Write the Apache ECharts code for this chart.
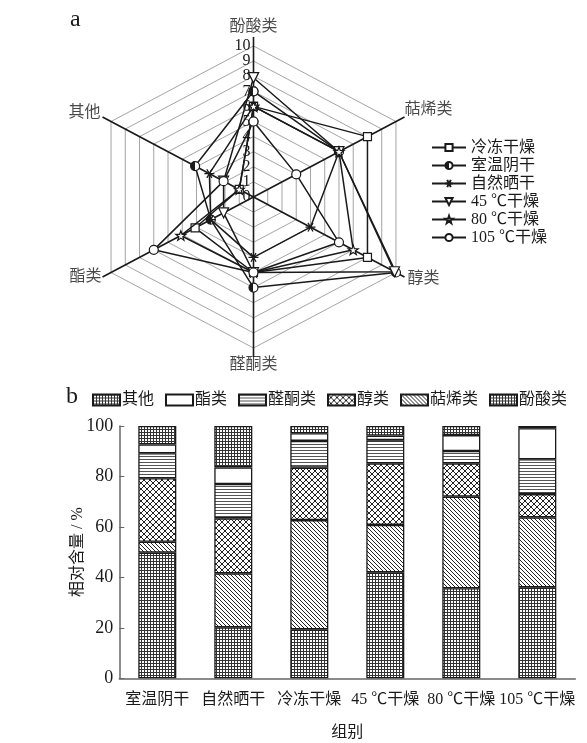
<!DOCTYPE html>
<html>
<head>
<meta charset="utf-8">
<script src="https://cdn.jsdelivr.net/npm/echarts@6/dist/echarts.min.js"></script>
<style>
  html, body { margin: 0; padding: 0; background: #fff; }
  #chart { width: 587px; height: 743px; }
</style>
</head>
<body>
<div id="chart"></div>
<script>
// ---------- Panel a: radar of compound classes ----------
const radarAxes = ['酚酸类', '萜烯类', '醇类', '醛酮类', '酯类', '其他'];
const radarTicks = [0, 1, 2, 3, 4, 5, 6, 7, 8, 9, 10];
const radarGroups = ['冷冻干燥', '室温阴干', '自然晒干', '45 ℃干燥', '80 ℃干燥', '105 ℃干燥'];
// values per group, in radarAxes order
const freezeDry = [6.0, 8.0, 8.0, 5.0, 4.1, 1.0];
const shadeDry  = [7.0, 6.0, 10.0, 6.0, 3.0, 4.1];
const sunDry    = [6.0, 6.0, 4.0, 4.0, 3.0, 3.1];
const oven45    = [7.9, 6.0, 9.9, 5.0, 2.1, 2.1];
const oven80    = [6.0, 6.0, 7.0, 5.0, 5.1, 1.0];
const oven105   = [5.0, 3.0, 6.0, 5.0, 7.0, 2.1];

// ---------- Panel b: stacked relative content ----------
const barGroups = ['室温阴干', '自然晒干', '冷冻干燥', '45 ℃干燥', '80 ℃干燥', '105 ℃干燥'];
const barTicks = [0, 20, 40, 60, 80, 100];
const phenolic = [49.8, 20.2, 19.4, 42.0, 35.7, 36.1];
const terpene  = [4.3, 21.4, 43.3, 18.8, 36.3, 27.7];
const alcohol  = [25.2, 21.8, 20.8, 24.4, 13.2, 9.2];
const aldKet   = [9.9, 13.6, 10.6, 9.2, 4.9, 13.8];
const ester    = [3.5, 6.6, 3.0, 1.8, 6.3, 12.3];
const other    = [7.3, 16.4, 2.9, 3.8, 3.6, 0.9];

const FONT = '"Liberation Serif", "Noto Sans CJK SC", serif';
const INK = '#1a1a1a';

// radar frame geometry (pixels)
const CX = 253.5, CY = 197, SX = 16.45, SY = 15.1, SPAN = 11;
const AXIS_END = 10.6;

// polar -> data coordinates; axis i sits i*60 degrees clockwise from the top
function polar(i, v) {
  const a = i * Math.PI / 3;
  return [v * Math.sin(a), v * Math.cos(a)];
}
function ring(vals) {
  const pts = vals.map((v, i) => polar(i, v));
  pts.push(pts[0]);
  return pts;
}

// hatch fills for the bars
function pattern(w, h, draw) {
  const c = document.createElement('canvas');
  c.width = w; c.height = h;
  const g = c.getContext('2d');
  g.fillStyle = '#fff';
  g.fillRect(0, 0, w, h);
  g.strokeStyle = '#222';
  g.lineWidth = 1;
  draw(g, w, h);
  return { image: c, repeat: 'repeat' };
}
const gridFill = pattern(3, 3, (g) => {
  g.fillStyle = '#333';
  g.fillRect(0, 0, 3, 1);
  g.fillRect(0, 0, 1, 3);
});
const diagFill = pattern(4, 4, (g) => {
  g.beginPath();
  g.moveTo(-1, -1); g.lineTo(5, 5);
  g.moveTo(-1, 3); g.lineTo(1, 5);
  g.moveTo(3, -1); g.lineTo(5, 1);
  g.stroke();
});
const crossFill = pattern(6, 6, (g) => {
  g.beginPath();
  g.moveTo(0, 0); g.lineTo(6, 6);
  g.moveTo(6, 0); g.lineTo(0, 6);
  g.stroke();
});
const hlineFill = pattern(2, 3, (g) => {
  g.fillStyle = '#555';
  g.fillRect(0, 0, 2, 1);
});

const series = [];

// concentric hexagon rings
radarTicks.slice(1).forEach((t) => {
  series.push({
    type: 'line', xAxisIndex: 0, yAxisIndex: 0, silent: true, clip: false,
    symbol: 'none', data: ring(radarAxes.map(() => t)),
    lineStyle: { color: '#9a9a9a', width: 0.9 }, z: 1
  });
});
// spokes
radarAxes.forEach((name, i) => {
  series.push({
    type: 'line', xAxisIndex: 0, yAxisIndex: 0, silent: true, clip: false,
    symbol: 'none', data: [[0, 0], polar(i, AXIS_END)],
    lineStyle: { color: INK, width: 1.6 }, z: 2
  });
});
// spoke names
const namePlacement = [
  { position: 'top', distance: 2, offset: [0, 0] },
  { position: 'right', distance: 0, offset: [0, -7] },
  { position: 'right', distance: 3, offset: [0, 2] },
  { position: 'bottom', distance: 0, offset: [0, 0] },
  { position: 'left', distance: 1, offset: [0, 0] },
  { position: 'left', distance: 2, offset: [0, -4] }
];
series.push({
  type: 'scatter', xAxisIndex: 0, yAxisIndex: 0, silent: true, clip: false,
  symbolSize: 0,
  data: radarAxes.map((name, i) => ({
    value: polar(i, AXIS_END),
    label: Object.assign({ show: true, formatter: name }, namePlacement[i])
  })),
  label: { fontFamily: FONT, fontSize: 16, color: INK }
});

// marker shapes: asterisk and five-point star
const asterisk = 'path://M-10,0L10,0M-5,-8.66L5,8.66M-5,8.66L5,-8.66';
const star = 'path://M0,-10L2.35,-3.24L9.51,-3.09L3.8,1.24L5.88,8.09L0,4L-5.88,8.09L-3.8,1.24L-9.51,-3.09L-2.35,-3.24Z';

const hollow = { color: '#fff', borderColor: INK, borderWidth: 1.2 };
// half-dark disc for the shade-dried group
const halfDark = {
  color: {
    type: 'linear', x: 0, y: 0, x2: 1, y2: 0,
    colorStops: [
      { offset: 0, color: INK }, { offset: 0.5, color: INK },
      { offset: 0.5, color: '#fff' }, { offset: 1, color: '#fff' }
    ]
  },
  borderColor: INK, borderWidth: 1.2
};
const groupSpec = [
  { vals: freezeDry, symbol: 'rect', size: 8, style: hollow },
  { vals: shadeDry, symbol: 'circle', size: 9, style: halfDark },
  { vals: sunDry, symbol: asterisk, size: 10, style: { color: 'none', borderColor: INK, borderWidth: 1.3 } },
  { vals: oven45, symbol: 'triangle', size: 10, rotate: 180, style: hollow },
  { vals: oven80, symbol: star, size: 10, style: hollow },
  { vals: oven105, symbol: 'circle', size: 9, style: hollow }
];
groupSpec.forEach((g, k) => {
  series.push({
    name: radarGroups[k],
    type: 'line', xAxisIndex: 0, yAxisIndex: 0, clip: false,
    data: ring(g.vals),
    symbol: g.symbol, symbolSize: g.size, symbolRotate: g.rotate || 0,
    symbolKeepAspect: true, showSymbol: true,
    lineStyle: { color: INK, width: 1.5 },
    itemStyle: g.style,
    z: 5 + k
  });
});

// stacked bars, bottom to top
const barSpec = [
  { name: '酚酸类', vals: phenolic, fill: gridFill },
  { name: '萜烯类', vals: terpene, fill: diagFill },
  { name: '醇类', vals: alcohol, fill: crossFill },
  { name: '醛酮类', vals: aldKet, fill: hlineFill },
  { name: '酯类', vals: ester, fill: '#fff' },
  { name: '其他', vals: other, fill: gridFill }
];
barSpec.forEach((b) => {
  series.push({
    name: b.name, type: 'bar', xAxisIndex: 1, yAxisIndex: 1,
    stack: 'share', data: b.vals, barWidth: 38,
    itemStyle: { color: b.fill, borderColor: INK, borderWidth: 1.3 }
  });
});

const option = {
  animation: false,
  backgroundColor: '#fff',
  textStyle: { fontFamily: FONT },
  grid: [
    { left: CX - SPAN * SX, width: 2 * SPAN * SX, top: CY - SPAN * SY, height: 2 * SPAN * SY, containLabel: false },
    { left: 119.3, right: 11.7, top: 426, bottom: 64.7, containLabel: false }
  ],
  xAxis: [
    { gridIndex: 0, type: 'value', min: -SPAN, max: SPAN, show: false },
    {
      gridIndex: 1, type: 'category', data: barGroups,
      axisLine: { lineStyle: { color: '#666', width: 1.5 } },
      axisTick: { show: false },
      axisLabel: { fontFamily: FONT, fontSize: 16, color: INK, margin: 13, interval: 0 },
      name: '组别', nameLocation: 'middle', nameGap: 46, nameMoveOverlap: false,
      nameTextStyle: { fontFamily: FONT, fontSize: 16, color: INK }
    }
  ],
  yAxis: [
    {
      gridIndex: 0, type: 'value', min: -SPAN, max: SPAN, interval: 1,
      position: 'left', offset: -(SPAN * SX),
      axisLine: { show: false }, axisTick: { show: false }, splitLine: { show: false },
      axisLabel: {
        margin: 3, fontFamily: FONT, fontSize: 16, color: INK,
        formatter: (v) => (radarTicks.indexOf(v) >= 0 ? String(v) : '')
      },
      z: 3
    },
    {
      gridIndex: 1, type: 'value', min: 0, max: 100, interval: 20,
      axisLine: { show: true, lineStyle: { color: '#666', width: 1.5 } },
      axisTick: { show: true, inside: true, length: 5, lineStyle: { color: '#666' } },
      splitLine: { show: false },
      axisLabel: {
        fontFamily: FONT, fontSize: 18, color: INK, margin: 6,
        formatter: (v) => (barTicks.indexOf(v) >= 0 ? String(v) : '')
      },
      name: '相对含量 / %', nameLocation: 'middle', nameGap: 34, nameRotate: 90,
      nameMoveOverlap: false,
      nameTextStyle: { fontFamily: FONT, fontSize: 16, color: INK }
    }
  ],
  legend: [
    {
      data: radarGroups, orient: 'vertical', left: 426, top: 134,
      itemWidth: 34, itemHeight: 9, itemGap: 1,
      textStyle: { fontFamily: FONT, fontSize: 16, color: INK, lineHeight: 17 },
      selectedMode: false
    },
    {
      data: ['其他', '酯类', '醛酮类', '醇类', '萜烯类', '酚酸类'],
      orient: 'horizontal', left: 87, top: 387,
      itemWidth: 27, itemHeight: 11, itemGap: 11,
      icon: 'rect',
      textStyle: { fontFamily: FONT, fontSize: 16, color: INK, padding: [0, 0, 0, -3] },
      selectedMode: false
    }
  ],
  graphic: [
    { type: 'text', left: 70, top: 8, style: { text: 'a', font: '24px ' + FONT, fill: INK } },
    { type: 'text', left: 66, top: 385, style: { text: 'b', font: '24px ' + FONT, fill: INK } }
  ],
  series: series
};

const chart = echarts.init(document.getElementById('chart'), null, { renderer: 'canvas' });
chart.setOption(option);
</script>
</body>
</html>
